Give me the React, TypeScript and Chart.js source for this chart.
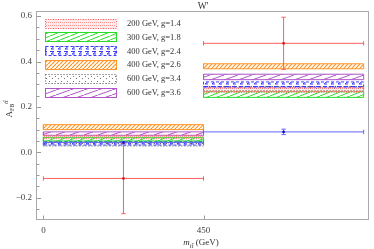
import React, { useEffect, useRef } from "react";
import { Chart, registerables } from "chart.js";

Chart.register(...registerables);

// ---- data ----
const binEdges = [0, 450, 900];
const binCenters = [225, 675];
const modelLabels = [
  "200 GeV, g=1.4",
  "300 GeV, g=1.8",
  "400 GeV, g=2.4",
  "400 GeV, g=2.6",
  "600 GeV, g=3.4",
  "600 GeV, g=3.6",
];
// [low, high] per bin
const band200g14 = [[0.06, 0.075], [0.265, 0.285]];
const band300g18 = [[0.05, 0.065], [0.242, 0.267]];
const band400g24 = [[0.032, 0.048], [0.287, 0.31]];
const band400g26 = [[0.1, 0.122], [0.368, 0.39]];
const band600g34 = [[0.028, 0.042], [0.272, 0.29]];
const band600g36 = [[0.075, 0.09], [0.32, 0.344]];
const measuredValues = [-0.115, 0.48];
const measuredErrors = [0.155, 0.115];
const smValues = [0.043, 0.09];
const smErrors = [0.005, 0.012];
const yTicks = [-0.2, 0, 0.2, 0.4, 0.6];
const yTickLabels = ["\u22120.2", "0.0", "0.2", "0.4", "0.6"];
const xTicks = [0, 450];
const xTickLabels = ["0", "450"];

const bands = [band200g14, band300g18, band400g24, band400g26, band600g34, band600g36];

// ---- styles ----
const SERIF = "'Liberation Serif', 'DejaVu Serif', serif";
const bandColors = [
  "rgb(255,90,90)",
  "rgb(40,220,40)",
  "rgb(60,60,255)",
  "rgb(255,150,40)",
  "rgb(80,80,80)",
  "rgb(175,85,200)",
];
const bandDashes: number[][] = [[1, 1.5], [], [3, 2], [], [1, 2], []];

type Drawer = (g: CanvasRenderingContext2D, w: number, h: number) => void;

function makePattern(ctx: CanvasRenderingContext2D, w: number, h: number, draw: Drawer) {
  const c = document.createElement("canvas");
  c.width = w;
  c.height = h;
  const g = c.getContext("2d") as CanvasRenderingContext2D;
  draw(g, w, h);
  return ctx.createPattern(c, "repeat") as CanvasPattern;
}

function diag(color: string, lw: number): Drawer {
  return (g, w, h) => {
    g.strokeStyle = color;
    g.lineWidth = lw;
    for (let k = -1; k <= 1; k++) {
      g.beginPath();
      g.moveTo(k * w, h);
      g.lineTo(k * w + w, 0);
      g.stroke();
    }
  };
}

function buildPatterns(ctx: CanvasRenderingContext2D): CanvasPattern[] {
  return [
    makePattern(ctx, 4, 3, (g) => {
      g.fillStyle = "rgba(255,170,170,0.25)";
      g.fillRect(0, 0, 4, 3);
      g.fillStyle = "rgba(255,110,110,0.7)";
      g.fillRect(0, 1, 1, 1);
      g.fillRect(2, 1, 1, 1);
    }),
    makePattern(ctx, 10, 4, diag("rgb(40,220,40)", 1)),
    makePattern(ctx, 7, 5, (g) => {
      g.strokeStyle = "rgb(60,60,255)";
      g.lineWidth = 1;
      g.beginPath();
      g.moveTo(1, 1.5);
      g.lineTo(5, 1.5);
      g.lineTo(2, 4);
      g.lineTo(5, 4);
      g.stroke();
    }),
    makePattern(ctx, 4, 4, diag("rgb(255,150,40)", 1.2)),
    makePattern(ctx, 6, 5, (g) => {
      g.fillStyle = "rgba(70,70,70,0.75)";
      g.fillRect(1, 1, 1, 1);
      g.fillRect(4, 3, 1, 1);
    }),
    makePattern(ctx, 14, 5, diag("rgb(175,85,200)", 1)),
  ];
}

function drawRichText(
  ctx: CanvasRenderingContext2D,
  parts: { t: string; size: number; dy: number; italic?: boolean }[],
  cx: number,
  cy: number
) {
  let total = 0;
  for (const p of parts) {
    ctx.font = `${p.italic ? "italic " : ""}${p.size}px ${SERIF}`;
    total += ctx.measureText(p.t).width;
  }
  let x = cx - total / 2;
  ctx.textAlign = "left";
  ctx.textBaseline = "alphabetic";
  for (const p of parts) {
    ctx.font = `${p.italic ? "italic " : ""}${p.size}px ${SERIF}`;
    ctx.fillText(p.t, x, cy + p.dy);
    x += ctx.measureText(p.t).width;
  }
}

export default function App() {
  const ref = useRef<HTMLCanvasElement | null>(null);

  useEffect(() => {
    const canvas = ref.current;
    if (!canvas) return;
    const ctx0 = canvas.getContext("2d") as CanvasRenderingContext2D;
    const patterns = buildPatterns(ctx0);

    const datasets: any[] = [];

    // error bars (measured: red, SM: blue)
    const series = [
      { vals: measuredValues, errs: measuredErrors, line: "rgb(255,95,95)", mark: "rgb(230,0,0)" },
      { vals: smValues, errs: smErrors, line: "rgb(100,100,255)", mark: "rgb(0,0,210)" },
    ];
    for (const s of series) {
      for (let b = 0; b < binCenters.length; b++) {
        const y = s.vals[b];
        const e = s.errs[b];
        datasets.push({
          type: "line",
          data: [
            { x: binEdges[b], y },
            { x: binEdges[b + 1], y },
          ],
          borderColor: s.line,
          borderWidth: 1,
          pointStyle: "line",
          rotation: 90,
          pointRadius: 2.2,
          pointBorderColor: s.line,
          pointBorderWidth: 1,
          fill: false,
          order: 1,
        });
        datasets.push({
          type: "line",
          data: [
            { x: binCenters[b], y: y - e },
            { x: binCenters[b], y: y + e },
          ],
          borderColor: s.line,
          borderWidth: 1,
          pointStyle: "line",
          rotation: 0,
          pointRadius: 2.2,
          pointBorderColor: s.line,
          pointBorderWidth: 1,
          fill: false,
          order: 1,
        });
        datasets.push({
          type: "line",
          data: [{ x: binCenters[b], y }],
          showLine: false,
          pointStyle: "rect",
          pointRadius: 1.6,
          pointBackgroundColor: s.mark,
          pointBorderColor: s.mark,
          pointBorderWidth: 0,
          order: 0,
        });
      }
    }

    // bands
    bands.forEach((band, i) => {
      for (let b = 0; b < band.length; b++) {
        const [lo, hi] = band[b];
        const x0 = binEdges[b];
        const x1 = binEdges[b + 1];
        datasets.push({
          type: "line",
          data: [
            { x: x0, y: lo },
            { x: x1, y: lo },
            { x: x1, y: hi },
            { x: x0, y: hi },
            { x: x0, y: lo },
          ],
          borderColor: bandColors[i],
          borderWidth: 1,
          borderDash: bandDashes[i],
          backgroundColor: patterns[i],
          fill: "shape",
          pointRadius: 0,
          tension: 0,
          order: 2,
        });
      }
    });

    const overlay = {
      id: "overlay",
      afterDraw(chart: any) {
        const ctx: CanvasRenderingContext2D = chart.ctx;
        const a = chart.chartArea;
        const xs = chart.scales.x;
        const ys = chart.scales.y;
        ctx.save();
        // frame
        ctx.strokeStyle = "#aaaaaa";
        ctx.lineWidth = 1;
        ctx.setLineDash([]);
        ctx.strokeRect(a.left - 0.5, a.top - 0.5, a.right - a.left, a.bottom - a.top);
        // y ticks (inward), minor every 0.05
        ctx.strokeStyle = "#999999";
        for (let v = -0.25; v <= 0.6001; v += 0.05) {
          const y = Math.round(ys.getPixelForValue(v)) + 0.5;
          const major = Math.abs(Math.round(v * 5) - v * 5) < 1e-6;
          ctx.beginPath();
          ctx.moveTo(a.left, y);
          ctx.lineTo(a.left + (major ? 4 : 2.5), y);
          ctx.stroke();
        }
        for (const v of xTicks) {
          const x = Math.round(xs.getPixelForValue(v)) + 0.5;
          ctx.beginPath();
          ctx.moveTo(x, a.bottom - 1);
          ctx.lineTo(x, a.bottom - 4.5);
          ctx.stroke();
        }
        // legend
        const rowStep = 13.9;
        for (let i = 0; i < modelLabels.length; i++) {
          const cy = a.top + 11 + i * rowStep;
          const bx = a.left + 8;
          const bw = 71;
          const bh = 9;
          const by = Math.round(cy - bh / 2) + 0.5;
          ctx.fillStyle = patterns[i];
          ctx.fillRect(bx, by, bw, bh);
          ctx.strokeStyle = bandColors[i];
          ctx.setLineDash(bandDashes[i]);
          ctx.lineWidth = 1;
          ctx.strokeRect(bx + 0.5, by, bw, bh);
          ctx.setLineDash([]);
          ctx.fillStyle = "#333333";
          ctx.font = `8.5px ${SERIF}`;
          ctx.textAlign = "left";
          ctx.textBaseline = "middle";
          ctx.fillText(modelLabels[i], a.left + 90, cy + 0.5);
        }
        // title
        ctx.fillStyle = "#333333";
        ctx.font = `9.5px ${SERIF}`;
        ctx.textAlign = "center";
        ctx.textBaseline = "alphabetic";
        ctx.fillText("W'", (a.left + a.right) / 2, 8.5);
        // x title
        ctx.fillStyle = "#333333";
        drawRichText(
          ctx,
          [
            { t: "m", size: 9, dy: 0, italic: true },
            { t: "tt\u0304", size: 6.5, dy: 2.5, italic: true },
            { t: " (GeV)", size: 9, dy: 0 },
          ],
          (a.left + a.right) / 2 - 2,
          245
        );
        // y title (rotated)
        ctx.save();
        ctx.translate(11.5, 109);
        ctx.rotate(-Math.PI / 2);
        drawRichText(
          ctx,
          [
            { t: "A", size: 9, dy: 0 },
            { t: "FB", size: 6, dy: 2 },
            { t: "tt\u0304", size: 6, dy: -4, italic: true },
          ],
          0,
          0
        );
        ctx.restore();
        ctx.restore();
      },
    };

    const chart = new Chart(canvas, {
      type: "line",
      data: { datasets },
      options: {
        animation: false,
        responsive: false,
        devicePixelRatio: 1,
        layout: { padding: { top: 12, right: 1, bottom: 0, left: 0 } },
        plugins: {
          legend: { display: false },
          tooltip: { enabled: false },
          title: { display: false },
        },
        events: [],
        scales: {
          x: {
            type: "linear",
            min: -18,
            max: 915,
            grid: { display: false, drawTicks: false },
            border: { display: false },
            afterFit: (s: any) => {
              s.height = 29;
            },
            afterBuildTicks: (s: any) => {
              s.ticks = xTicks.map((v) => ({ value: v }));
            },
            ticks: {
              padding: 5,
              autoSkip: false,
              maxRotation: 0,
              color: "#444444",
              font: { family: SERIF, size: 9 },
              callback: (v: any) => {
                const i = xTicks.indexOf(Number(v));
                return i >= 0 ? xTickLabels[i] : "";
              },
            },
          },
          y: {
            type: "linear",
            min: -0.298,
            max: 0.618,
            grid: { display: false, drawTicks: false },
            border: { display: false },
            afterFit: (s: any) => {
              s.width = 37;
            },
            afterBuildTicks: (s: any) => {
              s.ticks = yTicks.map((v) => ({ value: v }));
            },
            ticks: {
              padding: 5,
              autoSkip: false,
              color: "#444444",
              font: { family: SERIF, size: 9 },
              callback: (v: any) => {
                const i = yTicks.findIndex((t) => Math.abs(t - Number(v)) < 1e-9);
                return i >= 0 ? yTickLabels[i] : "";
              },
            },
          },
        },
      } as any,
      plugins: [overlay],
    });

    return () => {
      chart.destroy();
    };
  }, []);

  return (
    <div style={{ position: "fixed", left: 0, top: 0, width: 374, height: 249, background: "#fff" }}>
      <canvas ref={ref} width={374} height={249} style={{ display: "block", width: 374, height: 249 }} />
    </div>
  );
}
